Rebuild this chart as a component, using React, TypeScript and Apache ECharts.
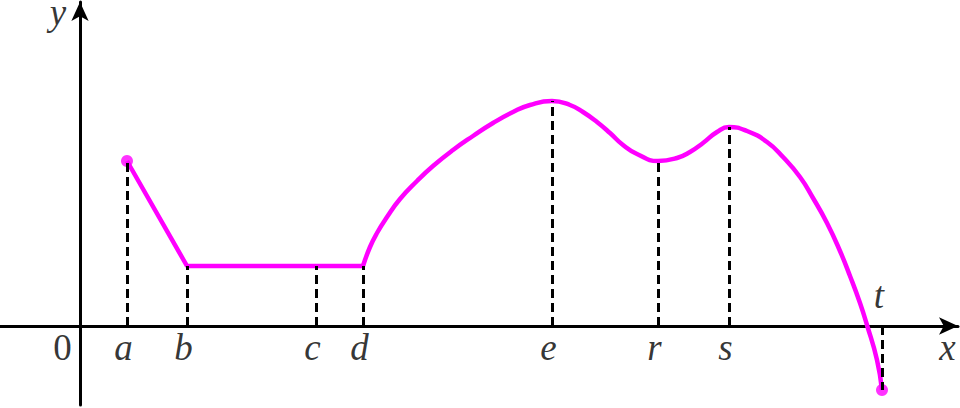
import React, { useEffect, useRef } from "react";
import * as echarts from "echarts";

// Named points on the x axis and the function value there (1 unit = 10px)
const pointNames = ["a", "b", "c", "d", "e", "r", "s", "t"];
const pointX = [4.7, 10.7, 23.6, 28.3, 47.2, 57.8, 64.9, 80.2];
const pointY = [16.5, 6.0, 6.0, 6.0, 22.5, 16.5, 19.9, -6.4];

// Piecewise linear part: a -> b -> d
const linearX = [4.7, 10.7, 28.3];
const linearY = [16.5, 6.0, 6.0];

// Smooth part: d -> t
const curveX = [28.3, 29.0, 29.7, 30.7, 32.0, 33.7, 35.3, 37.3, 39.3, 41.3, 43.3, 45.0, 47.2, 49.0, 50.3, 51.7, 53.0, 54.3, 55.7, 57.8, 59.7, 61.0, 62.3, 63.7, 64.9, 66.7, 68.7, 70.3, 72.0, 73.3, 74.7, 76.0, 77.0, 78.0, 78.7, 79.7, 80.2];
const curveY = [6.0, 7.9, 9.3, 10.9, 12.7, 14.5, 16.0, 17.6, 19.0, 20.3, 21.4, 22.1, 22.5, 22.1, 21.4, 20.4, 19.3, 18.1, 17.2, 16.5, 16.8, 17.4, 18.3, 19.4, 19.9, 19.5, 18.4, 16.9, 14.9, 12.8, 10.3, 7.5, 5.0, 2.3, 0.1, -3.4, -6.4];

// Endpoints (closed dots)
const endX = [4.7, 80.2];
const endY = [16.5, -6.4];

const X_MIN = -8;
const X_MAX = 87.8;
const Y_MIN = -7.9;
const Y_MAX = 32.4;

const MAGENTA = "#ff00ff";
const SERIF = "Liberation Serif";

export default function App() {
  const ref = useRef<HTMLDivElement>(null);

  useEffect(() => {
    if (!ref.current) return;
    const chart = echarts.init(ref.current, undefined, { renderer: "svg" });

    const textStyle = {
      fontFamily: SERIF,
      fontSize: 37,
      fontStyle: "italic" as const,
      color: "#000",
    };

    const dashLines = pointX.map((x, i) => [
      { coord: [x, 0] },
      { coord: [x, pointY[i]] },
    ]);

    const tickLabelData = pointNames
      .filter((n) => n !== "t")
      .map((n) => {
        const i = pointNames.indexOf(n);
        return {
          value: [pointX[i], 0],
          label: {
            show: true,
            formatter: n,
            position: "inside",
            offset: [-3.5, 21.5],
            ...textStyle,
          },
        };
      });

    const tIdx = pointNames.indexOf("t");

    const option: any = {
      animation: false,
      backgroundColor: "#fff",
      grid: { left: 0, right: 2, top: 2, bottom: 3, containLabel: false },
      xAxis: {
        type: "value",
        min: X_MIN,
        max: X_MAX,
        axisLine: {
          show: true,
          onZero: true,
          symbol: ["none", "arrow"],
          symbolSize: [13, 19],
          lineStyle: { color: "#000", width: 3 },
        },
        axisTick: { show: false },
        axisLabel: { show: false },
        splitLine: { show: false },
      },
      yAxis: {
        type: "value",
        min: Y_MIN,
        max: Y_MAX,
        axisLine: {
          show: true,
          onZero: true,
          symbol: ["none", "arrow"],
          symbolSize: [13, 19],
          lineStyle: { color: "#000", width: 3 },
        },
        axisTick: { show: false },
        axisLabel: { show: false },
        splitLine: { show: false },
      },
      series: [
        {
          name: "guides",
          type: "line",
          data: [],
          silent: true,
          markLine: {
            silent: true,
            symbol: ["none", "none"],
            label: { show: false },
            lineStyle: { color: "#000", width: 3, type: [9, 5] },
            data: dashLines,
          },
        },
        {
          name: "linear",
          type: "line",
          data: linearX.map((x, i) => [x, linearY[i]]),
          showSymbol: false,
          lineStyle: { color: MAGENTA, width: 4.5 },
          z: 3,
        },
        {
          name: "curve",
          type: "line",
          data: curveX.map((x, i) => [x, curveY[i]]),
          showSymbol: false,
          smooth: 0.5,
          lineStyle: { color: MAGENTA, width: 4.5 },
          z: 3,
        },
        {
          name: "ends",
          type: "scatter",
          data: endX.map((x, i) => [x, endY[i]]),
          symbolSize: 12,
          itemStyle: { color: MAGENTA },
          z: 4,
        },
        {
          name: "labels",
          type: "scatter",
          symbolSize: 0,
          silent: true,
          data: [
            ...tickLabelData,
            {
              value: [pointX[tIdx], 0],
              label: {
                show: true,
                formatter: "t",
                position: "inside",
                offset: [-3, -30.5],
                ...textStyle,
              },
            },
            {
              value: [0, 0],
              label: {
                show: true,
                formatter: "0",
                position: "inside",
                offset: [-17.5, 21.5],
                ...textStyle,
                fontStyle: "normal",
              },
            },
            {
              value: [X_MAX, 0],
              label: {
                show: true,
                formatter: "x",
                position: "inside",
                offset: [-10.5, 21.5],
                ...textStyle,
              },
            },
            {
              value: [0, Y_MAX],
              label: {
                show: true,
                formatter: "y",
                position: "inside",
                offset: [-22, 10],
                ...textStyle,
                lineHeight: 20,
              },
            },
          ],
        },
      ],
    };

    chart.setOption(option);
    return () => chart.dispose();
  }, []);

  return (
    <div
      ref={ref}
      style={{ position: "fixed", left: 0, top: 0, width: 960, height: 408 }}
    />
  );
}
